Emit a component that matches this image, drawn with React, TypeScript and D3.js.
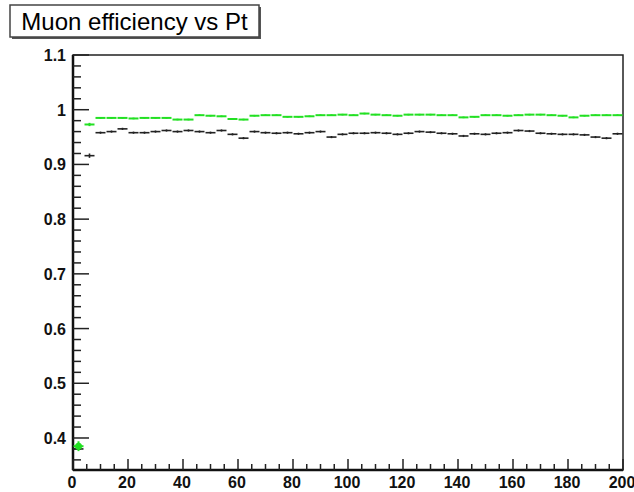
import React from "react";
import * as d3 from "d3";

const binEdgesStart = 0;
const binWidth = 4;
const greenValues = [0.385, 0.973, 0.985, 0.985, 0.985, 0.984, 0.985, 0.985, 0.985, 0.982, 0.982, 0.990, 0.989, 0.988, 0.983, 0.982, 0.989, 0.990, 0.990, 0.987, 0.987, 0.988, 0.990, 0.990, 0.991, 0.990, 0.993, 0.991, 0.990, 0.989, 0.991, 0.991, 0.991, 0.990, 0.990, 0.986, 0.987, 0.990, 0.990, 0.989, 0.990, 0.991, 0.991, 0.990, 0.989, 0.986, 0.989, 0.990, 0.990, 0.990];
const blackValues = [0.38, 0.916, 0.958, 0.960, 0.965, 0.958, 0.958, 0.960, 0.962, 0.960, 0.962, 0.960, 0.958, 0.962, 0.955, 0.948, 0.960, 0.958, 0.957, 0.958, 0.956, 0.958, 0.960, 0.950, 0.955, 0.957, 0.957, 0.958, 0.957, 0.955, 0.957, 0.960, 0.959, 0.957, 0.956, 0.952, 0.956, 0.955, 0.957, 0.958, 0.962, 0.961, 0.957, 0.956, 0.955, 0.955, 0.954, 0.950, 0.948, 0.956];
const greenErrors = greenValues.map((_, i) => (i === 0 ? 0.009 : i === 1 ? 0.003 : 0.0015));
const blackErrors = blackValues.map((_, i) => (i === 1 ? 0.004 : 0.002));
const xTicks = [0, 20, 40, 60, 80, 100, 120, 140, 160, 180, 200];
const yTicks = [0.4, 0.5, 0.6, 0.7, 0.8, 0.9, 1, 1.1];
const title = "Muon efficiency vs Pt";

const X0 = 73, X1 = 623, Y0 = 470, Y1 = 55;
const YMIN = 0.3415, YMAX = 1.1;

export default function App() {
  const x = d3.scaleLinear().domain([0, 200]).range([X0, X1]);
  const y = d3.scaleLinear().domain([YMIN, YMAX]).range([Y0, Y1]);

  const xMinor = d3.range(0, 201, 5).filter((v) => v % 20 !== 0);
  const yMinor = d3.range(34, 111, 2).map((v) => v / 100).filter((v) => v >= YMIN && Math.round(v * 100) % 10 !== 0);

  const drawSeries = (vals: number[], errs: number[], color: string, key: string, sw: number) =>
    vals.map((v, i) => {
      if (v < YMIN || v > YMAX) return null;
      const a = x(binEdgesStart + i * binWidth);
      const b = x(binEdgesStart + (i + 1) * binWidth);
      const c = (a + b) / 2;
      return (
        <g key={key + i} stroke={color} fill={color}>
          <line x1={a + 0.5} x2={b - 0.5} y1={y(v)} y2={y(v)} strokeWidth={sw} />
          <line x1={c} x2={c} y1={y(v - errs[i])} y2={y(v + errs[i])} strokeWidth={sw} />
        </g>
      );
    });

  const fontAxis = "'Liberation Sans', Arial, sans-serif";

  return (
    <svg width={634} height={492} style={{ position: "absolute", left: 0, top: 0, background: "#fff" }}>
      <rect x={0} y={0} width={634} height={492} fill="#fff" />
      {/* title box */}
      <rect x={12} y={7} width={249} height={32} fill="#555" />
      <rect x={10} y={5} width={249} height={32} fill="#fff" stroke="#444" strokeWidth={1.5} />
      <text x={134.5} y={30} textAnchor="middle" fontFamily={fontAxis} fontSize={24} fill="#000">{title}</text>

      {/* frame */}
      <rect x={X0} y={Y1} width={X1 - X0} height={Y0 - Y1} fill="none" stroke="#222" strokeWidth={1.5} />
      <line x1={X0} x2={X0} y1={Y1} y2={Y0} stroke="#111" strokeWidth={2.5} />
      <line x1={X0} x2={X1} y1={Y0} y2={Y0} stroke="#111" strokeWidth={2.5} />

      {/* y ticks */}
      {yTicks.map((t) => (
        <g key={"yt" + t}>
          <line x1={X0} x2={X0 + 16} y1={y(t)} y2={y(t)} stroke="#222" strokeWidth={1.5} />
          <text x={66} y={y(t) + 6} textAnchor="end" fontFamily={fontAxis} fontWeight="bold" fontSize={16} fill="#111">{String(t)}</text>
        </g>
      ))}
      {yMinor.map((t) => (
        <line key={"ym" + t} x1={X0} x2={X0 + 8} y1={y(t)} y2={y(t)} stroke="#222" strokeWidth={1.5} />
      ))}

      {/* x ticks */}
      {xTicks.map((t) => (
        <g key={"xt" + t}>
          <line x1={x(t)} x2={x(t)} y1={Y0} y2={Y0 - 11} stroke="#222" strokeWidth={1.5} />
          <text x={x(t) - 1} y={488} textAnchor="middle" fontFamily={fontAxis} fontWeight="bold" fontSize={16} fill="#111">{String(t)}</text>
        </g>
      ))}
      {xMinor.map((t) => (
        <line key={"xm" + t} x1={x(t)} x2={x(t)} y1={Y0} y2={Y0 - 6} stroke="#222" strokeWidth={1.5} />
      ))}

      {/* data */}
      <g>{drawSeries(blackValues, blackErrors, "#222", "b", 1.6)}</g>
      <g>{drawSeries(greenValues, greenErrors, "#22e022", "g", 2)}</g>
      <circle cx={x(binWidth / 2)} cy={y(greenValues[0])} r={3.5} fill="#22e022" />
    </svg>
  );
}
